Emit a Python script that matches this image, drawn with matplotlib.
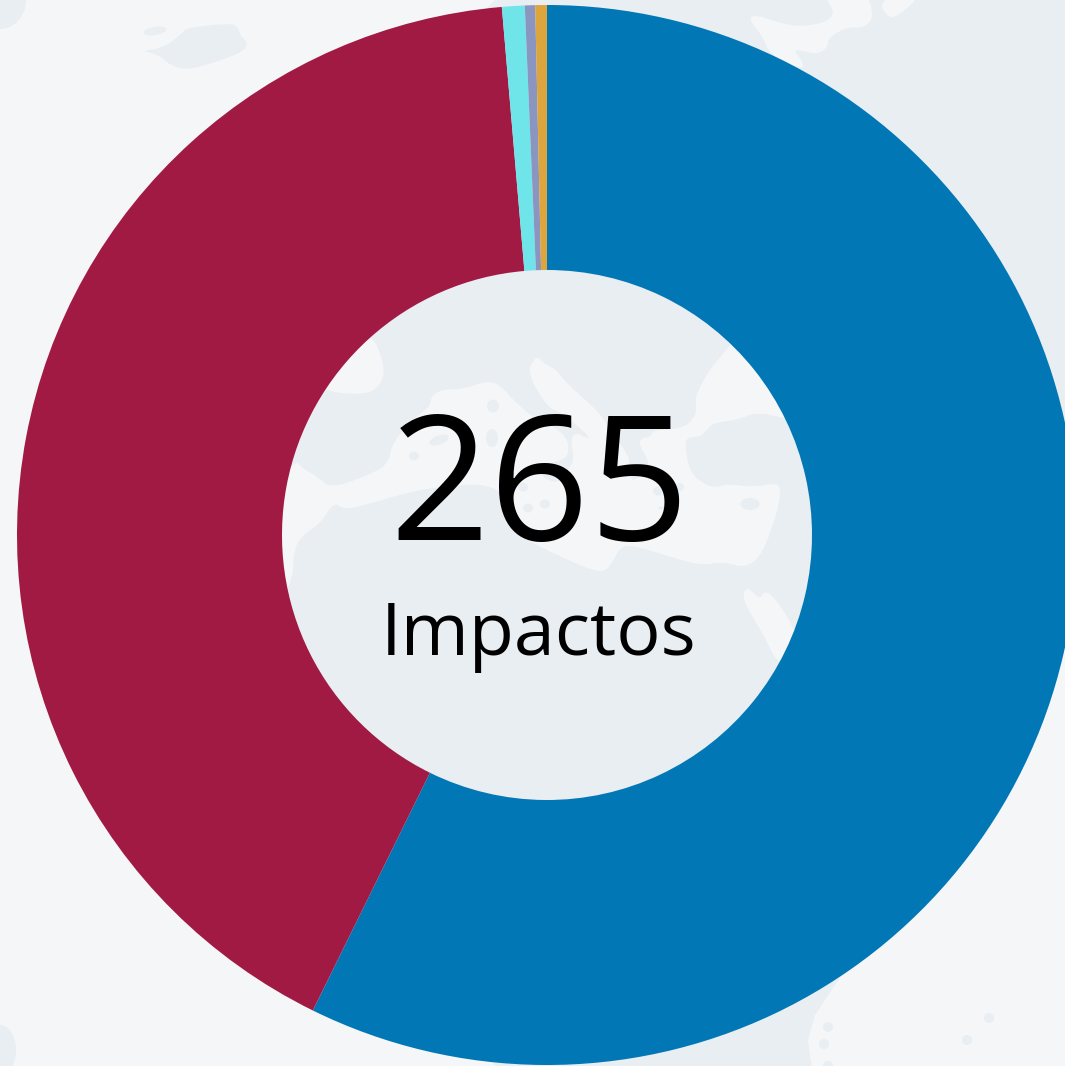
import numpy as np
import matplotlib
matplotlib.use("Agg")
import matplotlib.pyplot as plt
from matplotlib.patches import Polygon, Ellipse

plt.rcParams['font.family'] = ['Open Sans', 'DejaVu Sans']

# chart data
labels = ['A', 'B', 'C', 'D', 'E']
values = [151.8, 109.6, 1.83, 0.83, 0.94]
colors = ['#0277B6', '#A11A43', '#6FE5EA', '#8A96C0', '#DDA53D']
total_label = '265'
sub_label = 'Impactos'

LIGHT = '#F5F6F8'
DARK = '#E9EEF2'

# background map, in pixels of the image
sea = [(550, -5), (1070, -5), (1070, 640), (835, 985), (815, 1015), (808, 1040), (812, 1070),
       (500, 1070), (230, 800), (230, 270), (500, -5)]


def hole(pts):
    return [(280 + x / 2.96, 270 + y / 3) for x, y in pts]


def mid(pts):
    return [(400 + x / 3, 350 + y / 3) for x, y in pts]


land_main = (
    hole([(-30, 660), (50, 570), (60, 590), (110, 620), (150, 655), (250, 620), (320, 585), (335, 510)])
    + mid([(60, 190), (90, 170), (95, 135), (130, 118), (190, 118), (260, 92), (300, 105), (340, 150),
           (395, 200), (470, 235), (505, 270), (505, 320), (470, 335), (410, 350), (430, 385), (480, 400),
           (510, 348), (522, 330), (512, 265), (530, 248), (555, 262), (572, 265), (530, 225), (480, 187),
           (440, 170), (380, 65), (410, 15), (430, 40), (465, 55), (500, 100), (590, 180), (620, 220),
           (650, 270), (690, 320), (690, 400), (730, 370), (750, 340), (720, 290), (720, 265), (750, 262),
           (760, 240), (850, 235), (885, 200), (890, 170), (885, 140)])
    + [(709, 370), (729, 347), (745, 325), (820, 380), (800, 420), (783, 418), (757, 412), (737, 420),
       (713, 423), (707, 430), (700, 437), (687, 437), (685, 447), (690, 473), (707, 486), (718, 487),
       (727, 484), (753, 487), (777, 483), (781, 490), (777, 513), (763, 553), (747, 568), (723, 562),
       (703, 565), (680, 560), (633, 545), (620, 547), (610, 567), (600, 573), (567, 560), (513, 533),
       (507, 520), (500, 482)]
    + hole([(420, 655), (270, 700), (190, 720), (160, 695), (120, 760), (60, 800), (40, 850), (40, 900),
            (25, 960), (-30, 960)])
)

land = [
    land_main,
    hole([(130, 365), (260, 375), (300, 340), (310, 300), (290, 230), (270, 200), (130, 150), (0, 300)]),
    hole([(1370, 970), (1385, 950), (1420, 990), (1435, 960), (1470, 990), (1520, 1070), (1560, 1200),
          (1470, 1180), (1440, 1110), (1380, 1010)]),
    [(823, -5), (835, 12), (827, 22), (800, 27), (777, 22), (757, 15), (748, 18), (763, 37), (770, 55),
     (803, 70), (803, 62), (792, 48), (817, 55), (828, 47), (828, 38), (847, 27), (863, 28), (872, 20),
     (872, 10), (868, -5)],
    [(880, 5), (888, 17), (897, 17), (922, -5), (890, -5)],
    [(1070, 640), (1070, 1070), (812, 1070), (808, 1040), (815, 1015), (835, 985)],
]

patches_dark = [
    [(142, 51), (163, 48), (183, 33), (185, 28), (233, 23), (238, 28), (240, 35), (248, 43), (243, 52),
     (213, 63), (187, 70), (170, 65), (163, 58), (153, 53)],
]

lakes = [(493, 406, 12, 13, 0), (492, 438, 12, 18, 0), (414, 456, 10, 9, 0), (523, 487, 10, 9, 0),
         (528, 508, 10, 9, 0), (545, 504, 10, 9, 0), (750, 504, 19, 12, 0), (658, 491, 10, 9, 0),
         (680, 487, 8, 8, 0), (663, 508, 10, 3, 0), (439, 440, 20, 9, -20), (155, 31, 23, 8, -10),
         (828, 1027, 10, 10, 0), (824, 1044, 10, 10, 0), (828, 1066, 10, 10, 0), (967, 1040, 10, 10, 0),
         (989, 1018, 10, 10, 0), (0, 0, 52, 58, 0), (0, 1050, 32, 50, 0)]


def smooth(pts, rounds=3):
    pts = np.array(pts, dtype=float)
    for _ in range(rounds):
        nxt = np.roll(pts, -1, axis=0)
        pts = np.column_stack([0.75 * pts + 0.25 * nxt, 0.25 * pts + 0.75 * nxt]).reshape(-1, 2)
    return pts


W, H = 1065, 1066
fig = plt.figure(figsize=(W / 100, H / 100), dpi=100, facecolor=LIGHT)

bg = fig.add_axes([0, 0, 1, 1])
bg.set_xlim(0, W)
bg.set_ylim(H, 0)
bg.axis('off')
bg.add_patch(Polygon(sea, closed=True, fc=DARK, ec='none'))
for shape in land:
    bg.add_patch(Polygon(smooth(shape), closed=True, fc=LIGHT, ec='none'))
for shape in patches_dark:
    bg.add_patch(Polygon(smooth(shape), closed=True, fc=DARK, ec='none'))
for x, y, w, h, a in lakes:
    bg.add_patch(Ellipse((x, y), w, h, angle=a, fc=DARK, ec='none'))

# the donut runs off the right edge of the image
ax = fig.add_axes([17 / W, (H - 5 - 1060) / H, 1060 / W, 1060 / H])
ax.pie(values, colors=colors, startangle=90, counterclock=False, radius=1,
       wedgeprops={'width': 0.5, 'linewidth': 0})
ax.set_xlim(-1, 1)
ax.set_ylim(-1, 1)
ax.axis('off')

fig.text(539.5 / W, 1 - 540 / H, total_label, fontsize=126, color='black', ha='center', va='baseline')
fig.text(538.5 / W, 1 - 655 / H, sub_label, fontsize=53, color='black', ha='center', va='baseline')

fig.savefig('out.png', dpi=100, facecolor=LIGHT)
